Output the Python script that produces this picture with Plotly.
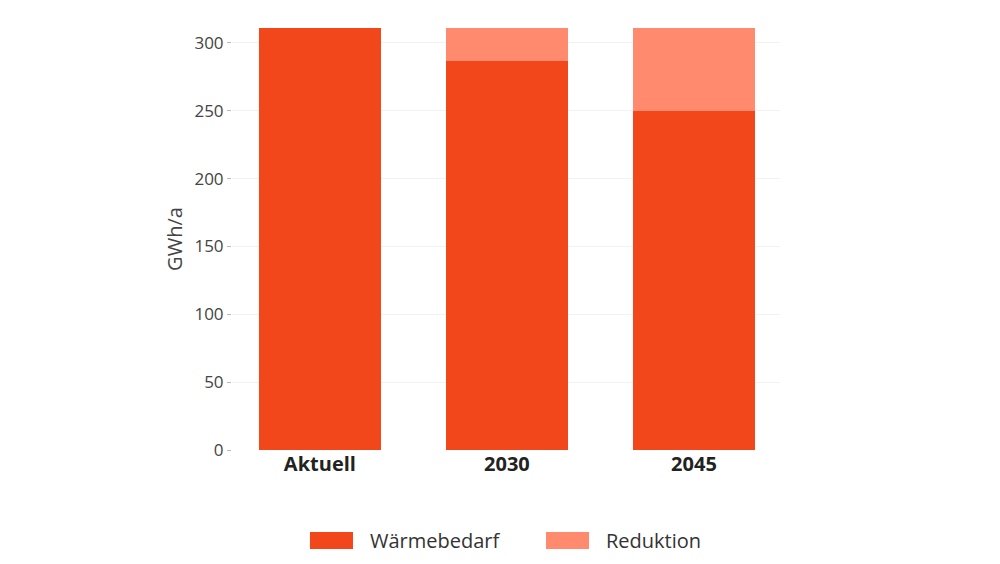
import plotly.graph_objects as go

# values (GWh/a)
szenarien = ["Aktuell", "2030", "2045"]
waermebedarf = [311, 287, 250]
reduktion = [0, 24, 61]
serien = ["Wärmebedarf", "Reduktion"]

farben = ["#F2461B", "#FF8A6E"]
schrift = "Open Sans, Lato, sans-serif"

fig = go.Figure()
for name, werte, farbe in zip(serien, [waermebedarf, reduktion], farben):
    fig.add_trace(go.Bar(x=szenarien, y=werte, name=name,
                         marker=dict(color=farbe, line=dict(width=0)),
                         width=0.65, showlegend=False))

# legend with wide swatches, drawn below the plot (ggplot style)
legende_x = [0.1423, 0.573]
for name, farbe, x0 in zip(serien, farben, legende_x):
    fig.add_shape(type="rect", xref="paper", yref="paper",
                  x0=x0, x1=x0 + 0.0785, y0=-0.2346, y1=-0.1943,
                  fillcolor=farbe, line=dict(width=0))
    fig.add_annotation(xref="paper", yref="paper", x=x0 + 0.105, y=-0.2145,
                       text=name, showarrow=False, xanchor="left", yanchor="middle",
                       font=dict(size=20, color="#333333", family=schrift))

fig.update_layout(
    barmode="stack",
    width=984, height=548,
    margin=dict(l=224, r=212, t=20, b=106),
    paper_bgcolor="white",
    plot_bgcolor="white",
    font=dict(family=schrift, color="#444444"),
)
fig.update_xaxes(
    type="category",
    range=[-0.47, 2.46],
    showgrid=False, zeroline=False, showline=False,
    ticks="", tickfont=dict(size=20, color="#222222", family=schrift, weight="bold"),
)
fig.update_yaxes(
    range=[0, 311],
    tickvals=[0, 50, 100, 150, 200, 250, 300],
    showgrid=True, gridcolor="#F2F2F2", gridwidth=1,
    zeroline=False, showline=False,
    ticks="outside", ticklen=4, tickcolor="#BBBBBB",
    tickfont=dict(size=17, color="#444444"),
    title=dict(text="GWh/a", font=dict(size=20, color="#444444"), standoff=6),
)

fig.write_html("out.html")
